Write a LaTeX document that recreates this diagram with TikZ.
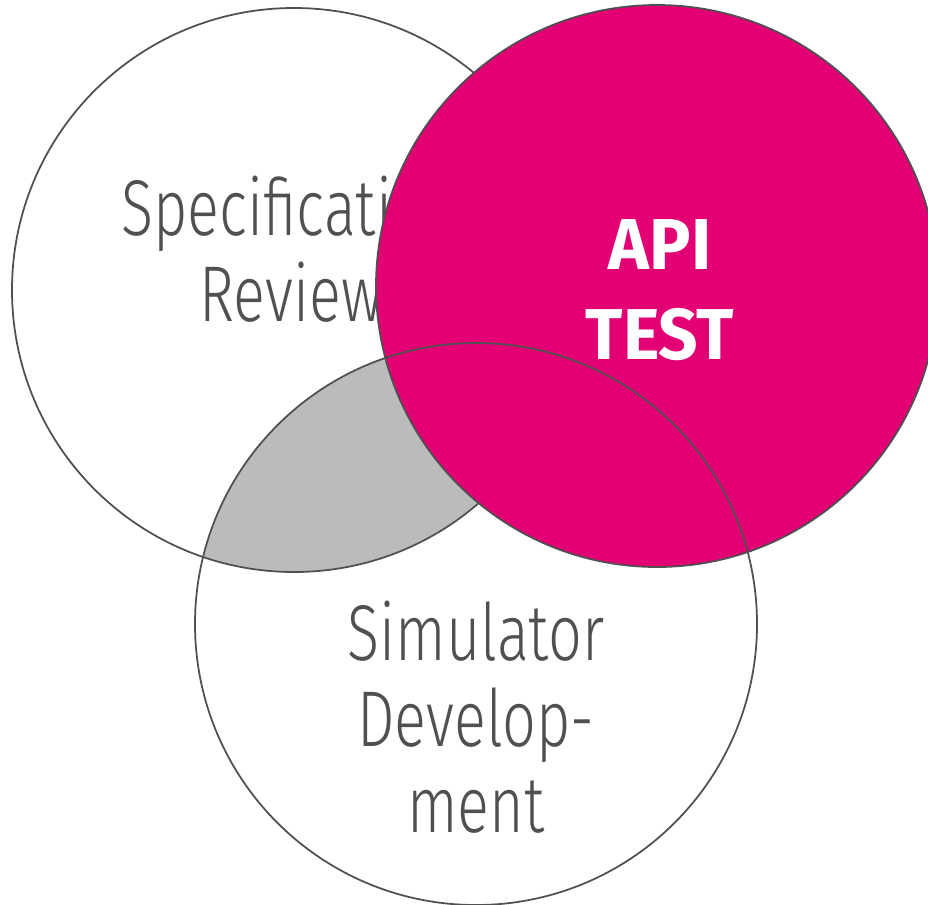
\documentclass[tikz,border=0pt]{standalone}
\usepackage{fontspec}
\setmainfont{Fira Sans Light}[FakeStretch=0.75]
\newfontfamily\heavyfont{Fira Sans Bold}[FakeStretch=0.96]
\definecolor{tmagenta}{HTML}{E20074}
\definecolor{ringgray}{HTML}{505050}
\definecolor{lensgray}{HTML}{BBBBBB}

\begin{document}
\begin{tikzpicture}[x=0.02cm, y=-0.02cm,
  ring/.style={draw=ringgray, line width=1pt},
  lbl/.style={text=ringgray, align=center, font=\fontsize{45}{49}\selectfont},
  hotlbl/.style={text=white, align=center, font=\heavyfont\fontsize{41}{51}\selectfont}
]

%% frame
\clip (0,0) rectangle (928,904);

%% circle centres
\coordinate (spec) at (294,290);
\coordinate (api)  at (657,286);
\coordinate (sim)  at (476,624);

%% grey lens (spec & sim), drawn first
\begin{scope}
  \clip (spec) circle (282);
  \fill[lensgray] (sim) circle (281);
\end{scope}

%% left circle
\draw[ring] (spec) circle (282);
\node[lbl] (spectxt) at (291,249) {Specification\\Review};

%% magenta circle on top
\fill[tmagenta] (api) circle (281);
\draw[ring] (api) circle (281);

%% bottom circle, outline over everything
\draw[ring] (sim) circle (281);

%% labels
\node[hotlbl] (apitxt) at (660,290) {API\\TEST};
\node[lbl]    (simtxt) at (476,717) {Simulator\\Develop-\\ment};

\end{tikzpicture}
\end{document}
